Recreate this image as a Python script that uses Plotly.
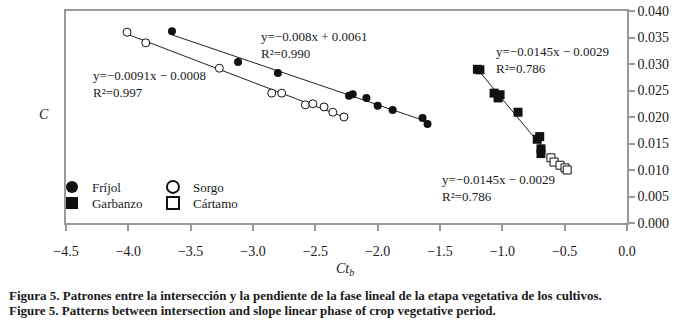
import numpy as np
import plotly.graph_objects as go

# ---- data ----
frijol_x = [-3.65, -3.12, -2.80, -2.23, -2.20, -2.09, -2.00, -1.88, -1.64, -1.60]
frijol_y = [0.0362, 0.0304, 0.0283, 0.0240, 0.0243, 0.0236, 0.0221, 0.0213, 0.0198, 0.0187]

sorgo_x = [-4.01, -3.86, -3.27, -2.85, -2.77, -2.58, -2.52, -2.43, -2.36, -2.27]
sorgo_y = [0.0360, 0.0340, 0.0292, 0.0245, 0.0245, 0.0223, 0.0225, 0.0219, 0.0209, 0.0200]

garbanzo_x = [-1.20, -1.18, -1.066, -1.018, -1.034, -0.874, -0.72, -0.70, -0.69, -0.69]
garbanzo_y = [0.0290, 0.0289, 0.0245, 0.0242, 0.0236, 0.0209, 0.0158, 0.0163, 0.0140, 0.0131]

cartamo_x = [-0.61, -0.585, -0.537, -0.497, -0.48]
cartamo_y = [0.0123, 0.0115, 0.0109, 0.0104, 0.0100]

eq_texts = [
    "y=\u22120.008x + 0.0061<br>R\u00b2=0.990",
    "y=\u22120.0091x \u2212 0.0008<br>R\u00b2=0.997",
    "y=\u22120.0145x \u2212 0.0029<br>R\u00b2=0.786",
    "y=\u22120.0145x \u2212 0.0029<br>R\u00b2=0.786",
]
eq_x = [-2.95, -4.30, -1.067, -1.50]
eq_y = [0.0335, 0.0263, 0.0307, 0.0066]

x_ticks = [-4.5, -4.0, -3.5, -3.0, -2.5, -2.0, -1.5, -1.0, -0.5, 0.0]
y_ticks = [0.000, 0.005, 0.010, 0.015, 0.020, 0.025, 0.030, 0.035, 0.040]

FONT = "Liberation Serif"
INK = "#1a1a1a"
GREY = "#9a9a9a"

fig = go.Figure()


def fit_line(xs, ys):
    k, b = np.polyfit(xs, ys, 1)
    xx = np.array([min(xs), max(xs)])
    return xx, k * xx + b


for xs, ys in [(frijol_x, frijol_y), (sorgo_x, sorgo_y), (garbanzo_x, garbanzo_y)]:
    lx, ly = fit_line(xs, ys)
    fig.add_trace(go.Scatter(x=lx, y=ly, mode="lines", line=dict(color="#222", width=1),
                             showlegend=False, hoverinfo="skip"))

fig.add_trace(go.Scatter(x=frijol_x, y=frijol_y, mode="markers", name="Fríjol",
                         marker=dict(symbol="circle", size=8, color="#111"), legend="legend"))
fig.add_trace(go.Scatter(x=sorgo_x, y=sorgo_y, mode="markers", name="Sorgo",
                         marker=dict(symbol="circle", size=8, color="white",
                                     line=dict(color="#111", width=1)), legend="legend"))
fig.add_trace(go.Scatter(x=garbanzo_x, y=garbanzo_y, mode="markers", name="Garbanzo",
                         marker=dict(symbol="square", size=9, color="#111"), legend="legend2"))
fig.add_trace(go.Scatter(x=cartamo_x, y=cartamo_y, mode="markers", name="Cártamo",
                         marker=dict(symbol="square", size=8, color="white",
                                     line=dict(color="#111", width=1)), legend="legend2"))

for t, ex, ey in zip(eq_texts, eq_x, eq_y):
    fig.add_annotation(x=ex, y=ey, text=t, showarrow=False, xanchor="left", yanchor="middle",
                       align="left", font=dict(family=FONT, size=13, color=INK))

# axis titles
fig.add_annotation(xref="paper", yref="paper", x=-0.051, y=0.514, text="<i>C</i>", showarrow=False,
                   font=dict(family=FONT, size=14, color=INK))
fig.add_annotation(xref="paper", yref="paper", x=0.497, y=-0.267, text="<i>Ct<sub>b</sub></i>",
                   showarrow=False, font=dict(family=FONT, size=14, color=INK))

# caption
fig.add_annotation(xref="paper", yref="paper", x=-0.105, y=-0.34, xanchor="left", yanchor="middle",
                   text="<b>Figura 5. Patrones entre la intersección y la pendiente de la fase lineal de la etapa vegetativa de los cultivos.</b>",
                   showarrow=False, font=dict(family=FONT, size=13, color=INK))
fig.add_annotation(xref="paper", yref="paper", x=-0.105, y=-0.415, xanchor="left", yanchor="middle",
                   text="<b>Figure 5. Patterns between intersection and slope linear phase of crop vegetative period.</b>",
                   showarrow=False, font=dict(family=FONT, size=13, color=INK))

legend_common = dict(orientation="h", xanchor="left", yanchor="middle", bgcolor="rgba(0,0,0,0)",
                     font=dict(family=FONT, size=13, color=INK), entrywidth=56,
                     entrywidthmode="pixels", itemsizing="constant")
fig.update_layout(
    width=683, height=326,
    margin=dict(l=66, r=56, t=11, b=103),
    paper_bgcolor="white", plot_bgcolor="white",
    font=dict(family=FONT, size=14, color=INK),
    hovermode=False,
    legend=dict(x=-0.025, y=0.17, **legend_common),
    legend2=dict(x=-0.025, y=0.094, **legend_common),
    xaxis=dict(range=[-4.5, 0], tickvals=x_ticks, tickformat=".1f", showgrid=False, zeroline=False,
               showline=True, linecolor=GREY, linewidth=1.5, mirror=True, automargin=False,
               ticks="outside", ticklen=6, tickcolor=GREY, tickwidth=1.5,
               ticklabelstandoff=8, tickfont=dict(family=FONT, size=14, color=INK)),
    yaxis=dict(range=[0, 0.040], tickvals=y_ticks, tickformat=".3f", side="right",
               showgrid=False, zeroline=False, automargin=False,
               showline=True, linecolor=GREY, linewidth=1.5, mirror=True,
               ticks="outside", ticklen=6, tickcolor=GREY, tickwidth=1.5,
               tickfont=dict(family=FONT, size=14, color=INK)),
)

# remove the browser's default 8 px page margin so the figure sits at the window's corner
fig.write_html("out.html", config={"displayModeBar": False},
               post_script="document.body.style.margin='0';")
